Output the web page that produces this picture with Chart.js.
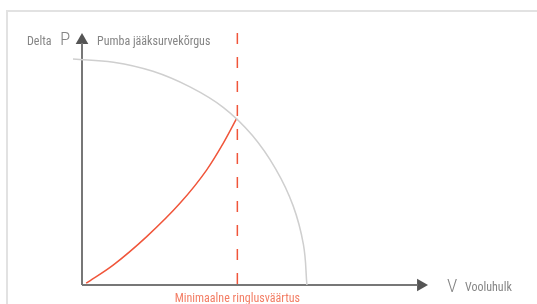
<!DOCTYPE html>
<html>
<head>
<meta charset="utf-8">
<script src="https://cdn.jsdelivr.net/npm/chart.js@4.4.0/dist/chart.umd.min.js"></script>
<style>
  html, body { margin: 0; padding: 0; background: #fff; }
  #wrap { width: 537px; height: 304px; }
</style>
</head>
<body>
<div id="wrap"><canvas id="c" width="537" height="304"></canvas></div>
<script>
// andmed (ühikud 0..100 mõlemal teljel)
const pumpCurve = [
    {x: -2.6, y: 89.7}, {x: 9.1, y: 88.4}, {x: 20.5, y: 84.8}, {x: 31.2, y: 78.6},
    {x: 40.9, y: 70.4}, {x: 49.2, y: 59.4}, {x: 56.0, y: 46.0}, {x: 61.0, y: 31.5},
    {x: 64.0, y: 16.0}, {x: 65.0, y: 0}
];
const systemCurve = [
    {x: 1.2, y: 0.7}, {x: 9.0, y: 7.9}, {x: 18.7, y: 19.2}, {x: 28.3, y: 32.4},
    {x: 36.0, y: 45.6}, {x: 40.8, y: 56.2}, {x: 44.7, y: 66.1}
];
const minFlowLine = [{x: 44.9, y: 100}, {x: 44.9, y: 0}];
const axisX = [{x: 0, y: 0}, {x: 97, y: 0}];
const axisY = [{x: 0, y: 0}, {x: 0, y: 96}];
const arrowHeads = [{x: 0, y: 97.1}, {x: 97.9, y: 0}];

const GRAY_TXT = '#858585';
const RED = '#f0553a';
const NARROW = '"Liberation Sans Narrow", "Roboto Condensed", "Arial Narrow", sans-serif';

// === Raam, tekstid ===
const decor = {
    id: 'decor',
    beforeDraw(chart) {
        const ctx = chart.ctx;
        ctx.save();
        ctx.strokeStyle = '#e2e2e2';
        ctx.lineWidth = 2;
        ctx.beginPath();
        ctx.moveTo(7, 304);
        ctx.lineTo(7, 11);
        ctx.lineTo(537, 11);
        ctx.stroke();
        ctx.restore();
    },
    afterDraw(chart) {
        const ctx = chart.ctx;
        ctx.save();
        ctx.textBaseline = 'alphabetic';
        ctx.fillStyle = GRAY_TXT;
        ctx.font = '12px ' + NARROW;
        ctx.fillText('Delta', 27, 45);
        ctx.fillText('Pumba jääksurvekõrgus', 97, 45);
        ctx.fillText('Vooluhulk', 465, 291);
        ctx.font = '300 19px ' + NARROW;
        ctx.fillText('P', 60, 45);
        ctx.fillText('V', 447, 292);
        ctx.fillStyle = '#f37d64';
        ctx.textAlign = 'center';
        ctx.font = '12px ' + NARROW;
        const xs = chart.scales.x;
        ctx.fillText('Minimaalne ringlusväärtus', xs.getPixelForValue(minFlowLine[0].x), 302);
        ctx.restore();
    }
};

new Chart(document.getElementById('c'), {
    type: 'scatter',
    data: {
        datasets: [
            { data: pumpCurve, showLine: true, borderColor: '#cfcfcf', borderWidth: 1.5,
              pointRadius: 0, tension: 0.4, clip: false },
            { data: systemCurve, showLine: true, borderColor: RED, borderWidth: 1.5,
              pointRadius: 0, cubicInterpolationMode: 'monotone', clip: false },
            { data: minFlowLine, showLine: true, borderColor: RED, borderWidth: 1.5,
              borderDash: [11, 13], pointRadius: 0, clip: false },
            { data: axisX, showLine: true, borderColor: '#777', borderWidth: 2,
              pointRadius: 0, clip: false },
            { data: axisY, showLine: true, borderColor: '#777', borderWidth: 2,
              pointRadius: 0, clip: false },
            { data: arrowHeads, showLine: false, pointStyle: 'triangle', pointRadius: 7.3,
              pointRotation: [0, 90], backgroundColor: '#555', borderColor: '#555',
              borderWidth: 0, clip: false }
        ]
    },
    options: {
        responsive: false,
        animation: false,
        layout: { padding: { left: 82, right: 109, top: 33, bottom: 19 } },
        plugins: { legend: { display: false }, tooltip: { enabled: false } },
        scales: {
            x: { type: 'linear', min: 0, max: 100, display: false },
            y: { type: 'linear', min: 0, max: 100, display: false }
        }
    },
    plugins: [decor]
});
</script>
</body>
</html>
